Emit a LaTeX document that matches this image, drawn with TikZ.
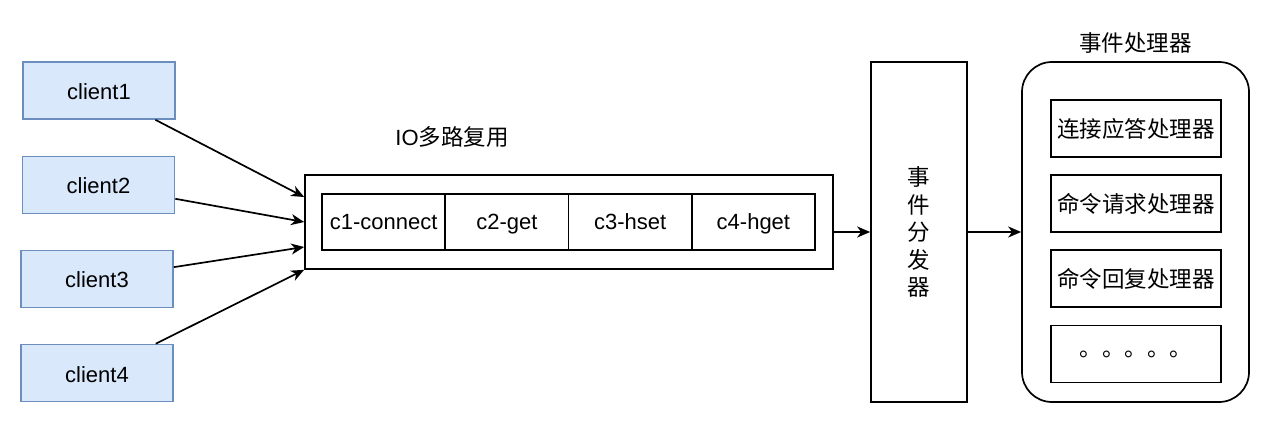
\documentclass[tikz,border=0pt]{standalone}
\usepackage{fontspec}
\setmainfont{Liberation Sans}
\newfontfamily\cjk{Noto Sans CJK SC}
\usetikzlibrary{arrows.meta}
\definecolor{clientfill}{HTML}{DAE8FC}
\definecolor{clientline}{HTML}{6C8EBF}
\tikzset{
	client/.style={draw=clientline,fill=clientfill,line width=1.6pt,minimum width=152pt,minimum height=57pt,text height=18pt,text depth=0pt},
	cell/.style={draw,line width=1.7pt,minimum width=123.3pt,minimum height=56pt,text height=16pt,text depth=0pt},
	handlerbox/.style={draw,line width=1.7pt,minimum width=170pt,minimum height=57pt,font=\cjk\fontsize{22.5}{27}\selectfont},
	flow/.style={-{Stealth[length=13pt,width=11pt,inset=4pt]},line width=1.7pt}
}
\begin{document}
\begin{tikzpicture}[x=1pt,y=-1pt,font=\fontsize{22}{26}\selectfont]
		\useasboundingbox (0,0) rectangle (1280,446);
		% clients
		\node[client] (client1) at (99,90.5) {client1};
		\node[client] (client2) at (98.5,185) {client2};
		\node[client] (client3) at (97,279) {client3};
		\node[client] (client4) at (97,373) {client4};
		% io multiplexing
		\node[draw,line width=1.7pt,minimum width=528pt,minimum height=94pt] (io) at (569,222) {};
		\node (iotitle) at (452,137) {IO{\cjk\fontsize{22.5}{27}\selectfont 多路复用}};
		\node[cell] (c1) at (383.6,222) {c1-connect};
		\node[cell] (c2) at (506.9,222) {c2-get};
		\node[cell] (c3) at (630.1,222) {c3-hset};
		\node[cell] (c4) at (753.4,222) {c4-hget};
		% dispatcher
		\node[draw,line width=1.7pt,minimum width=96pt,minimum height=340pt,align=center,
			font=\cjk\fontsize{22.5}{27.5}\selectfont] (dispatch) at (919,232) {事\\件\\分\\发\\器};
		% handlers
		\node[draw,line width=1.7pt,rounded corners=30pt,minimum width=227pt,minimum height=340pt] (handler) at (1135.5,232) {};
		\node[font=\cjk\fontsize{22.5}{27}\selectfont] (htitle) at (1135.5,43) {事件处理器};
		\node[handlerbox] (h1) at (1136,128.5) {连接应答处理器};
		\node[handlerbox] (h2) at (1136,203.5) {命令请求处理器};
		\node[handlerbox] (h3) at (1136,278.5) {命令回复处理器};
		\node[handlerbox] (h4) at (1136,354) {。。。。。};
		% arrows
		\draw[flow] (client1) -- ([yshift=25pt]io.west);
		\draw[flow] (client2) -- (io.west);
		\draw[flow] (client3) -- ([yshift=-25pt]io.west);
		\draw[flow] (client4) -- (io.south west);
		\draw[flow] ([yshift=-10pt]io.east) -- (dispatch.west);
		\draw[flow] (dispatch.east) -- (handler.west);
	\end{tikzpicture}
\end{document}
